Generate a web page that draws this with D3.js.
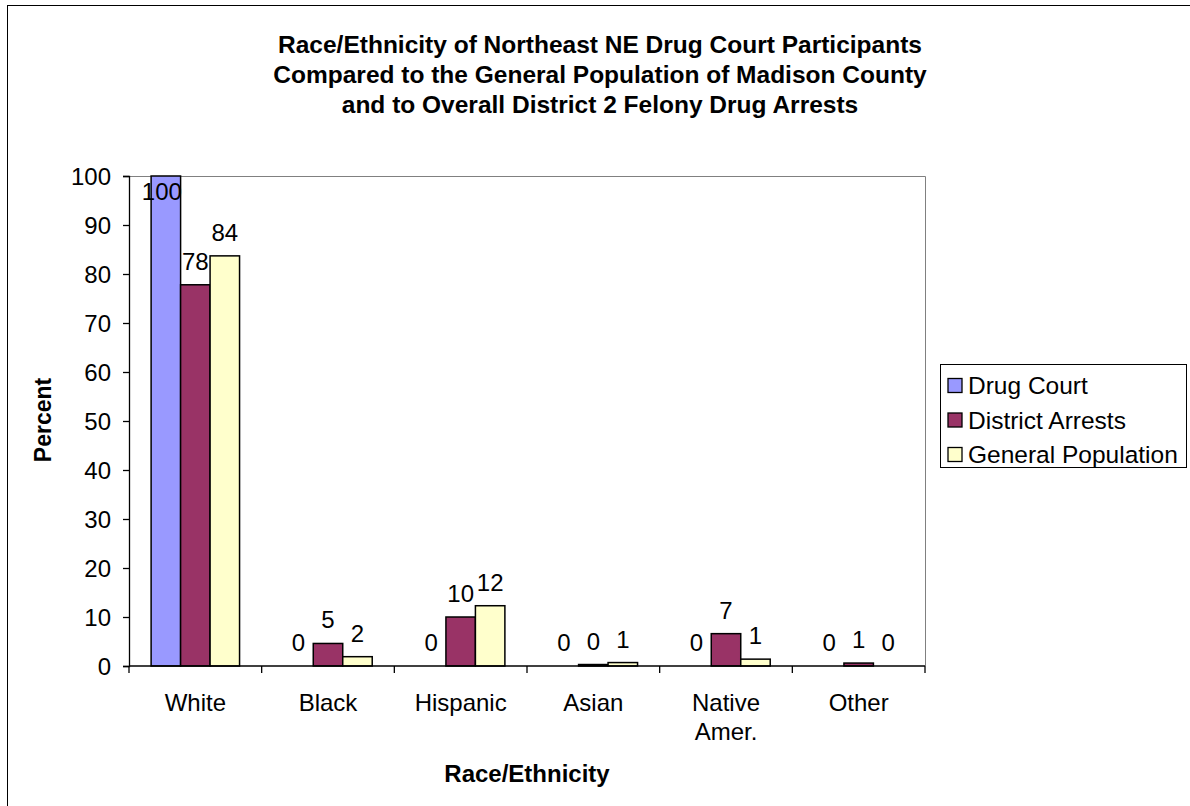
<!DOCTYPE html>
<html>
<head>
<meta charset="utf-8">
<script src="https://cdn.jsdelivr.net/npm/d3@7"></script>
<style>
  html, body { margin: 0; padding: 0; background: #fff; }
  svg { display: block; }
  text { font-family: "Liberation Sans", Arial, sans-serif; fill: #000; }
</style>
</head>
<body>
<svg id="chart" width="1190" height="806"></svg>
<script>
// ---- data ----
const categories = ["White", "Black", "Hispanic", "Asian", "Native Amer.", "Other"];
const seriesNames = ["Drug Court", "District Arrests", "General Population"];
const drugCourt = [100, 0, 0, 0, 0, 0];
const districtArrests = [77.8, 4.6, 10.0, 0.3, 6.6, 0.6];
const generalPopulation = [83.7, 1.9, 12.3, 0.7, 1.4, 0.0];
const yTicks = [0, 10, 20, 30, 40, 50, 60, 70, 80, 90, 100];
const titleLines = [
  "Race/Ethnicity of Northeast NE Drug Court Participants",
  "Compared to the General Population of Madison County",
  "and to Overall District 2 Felony Drug Arrests"
];
const colors = ["#9999FF", "#993366", "#FFFFCC"];

const seriesValues = [drugCourt, districtArrests, generalPopulation];

const svg = d3.select("#chart");

// outer chart border
svg.append("rect")
  .attr("x", 7.5).attr("y", 5.5)
  .attr("width", 1200).attr("height", 820)
  .attr("fill", "#fff").attr("stroke", "#000").attr("stroke-width", 1);

const plot = { left: 129, right: 925, top: 176, bottom: 666 };

const y = d3.scaleLinear().domain([0, 100]).range([plot.bottom, plot.top]);
const x = d3.scaleBand().domain(categories).range([plot.left, plot.right])
  .paddingInner(1 / 3).paddingOuter(1 / 6);
const xs = d3.scaleBand().domain(seriesNames).range([0, x.bandwidth()]).padding(0);
const color = d3.scaleOrdinal().domain(seriesNames).range(colors);

// plot area border (top & right gray)
svg.append("path")
  .attr("d", `M${plot.left},${plot.top + 0.5}H${plot.right + 0.5}V${plot.bottom}`)
  .attr("fill", "none").attr("stroke", "#808080").attr("stroke-width", 1);

// bars
const data = [];
categories.forEach((c, i) => {
  seriesNames.forEach((s, j) => {
    data.push({ cat: c, series: s, value: seriesValues[j][i] });
  });
});

svg.append("g").selectAll("rect")
  .data(data)
  .join("rect")
  .attr("x", d => x(d.cat) + xs(d.series))
  .attr("y", d => y(d.value))
  .attr("width", xs.bandwidth())
  .attr("height", d => y(0) - y(d.value))
  .attr("fill", d => color(d.series))
  .attr("stroke", "#000")
  .attr("stroke-width", 1.5);

// y axis
const yAxis = d3.axisLeft(y).tickValues(yTicks).tickSize(6).tickPadding(12).tickFormat(d3.format("d"));
const gy = svg.append("g").attr("transform", `translate(${plot.left},0)`).call(yAxis);
gy.select(".domain").attr("stroke", "#000").attr("stroke-width", 1.3);
gy.selectAll(".tick line").attr("stroke", "#000").attr("stroke-width", 1.3);
gy.selectAll(".tick text").attr("font-size", 24).attr("dy", "0.36em")
  .attr("font-family", "Liberation Sans, Arial, sans-serif").attr("fill", "#000");

// x axis line + ticks at category boundaries
const boundaries = categories.map((c, i) => plot.left + i * x.step());
boundaries.push(plot.right);
svg.append("line")
  .attr("x1", plot.left).attr("x2", plot.right)
  .attr("y1", plot.bottom).attr("y2", plot.bottom)
  .attr("stroke", "#000").attr("stroke-width", 1.3);
svg.append("g").selectAll("line")
  .data(boundaries)
  .join("line")
  .attr("x1", d => d).attr("x2", d => d)
  .attr("y1", plot.bottom).attr("y2", plot.bottom + 7)
  .attr("stroke", "#000").attr("stroke-width", 1.3);

// category labels
const catLabels = svg.append("g").selectAll("text")
  .data(categories)
  .join("text")
  .attr("x", d => x(d) + x.bandwidth() / 2)
  .attr("y", 711)
  .attr("text-anchor", "middle")
  .attr("font-size", 24);
catLabels.each(function (d) {
  const parts = d === "Native Amer." ? ["Native", "Amer."] : [d];
  const t = d3.select(this);
  parts.forEach((p, k) => {
    t.append("tspan").attr("x", x(d) + x.bandwidth() / 2).attr("dy", k === 0 ? 0 : 29).text(p);
  });
});

// data labels (labels that would leave the plot are pulled inside, shifted left like the original)
svg.append("g").selectAll("text")
  .data(data)
  .join("text")
  .attr("x", d => x(d.cat) + xs(d.series) + xs.bandwidth() / 2 - (y(d.value) - 15 < plot.top + 24 ? 4 : 0))
  .attr("y", d => Math.max(y(d.value) - 15, plot.top + 24))
  .attr("text-anchor", "middle")
  .attr("font-size", 24)
  .text(d => d3.format(".0f")(d.value));

// title
svg.append("g").selectAll("text")
  .data(titleLines)
  .join("text")
  .attr("x", 600)
  .attr("y", (d, i) => 53 + i * 30)
  .attr("text-anchor", "middle")
  .attr("font-size", 24.5)
  .attr("font-weight", "bold")
  .text(d => d);

// axis titles
svg.append("text")
  .attr("transform", `translate(51,420) rotate(-90)`)
  .attr("text-anchor", "middle")
  .attr("font-size", 23)
  .attr("font-weight", "bold")
  .text("Percent");

svg.append("text")
  .attr("x", (plot.left + plot.right) / 2)
  .attr("y", 782)
  .attr("text-anchor", "middle")
  .attr("font-size", 24)
  .attr("font-weight", "bold")
  .text("Race/Ethnicity");

// legend
const legend = svg.append("g");
legend.append("rect")
  .attr("x", 940.5).attr("y", 364.5)
  .attr("width", 246).attr("height", 103)
  .attr("fill", "#fff").attr("stroke", "#000").attr("stroke-width", 1);
const items = legend.selectAll("g.item")
  .data(seriesNames)
  .join("g")
  .attr("class", "item")
  .attr("transform", (d, i) => `translate(948,${385.5 + i * 34.5})`);
items.append("rect")
  .attr("x", 0).attr("y", -7)
  .attr("width", 14).attr("height", 14)
  .attr("fill", d => color(d))
  .attr("stroke", "#000").attr("stroke-width", 1.3);
items.append("text")
  .attr("x", 20).attr("y", 8.5)
  .attr("font-size", 24.5)
  .text(d => d);
</script>
</body>
</html>
